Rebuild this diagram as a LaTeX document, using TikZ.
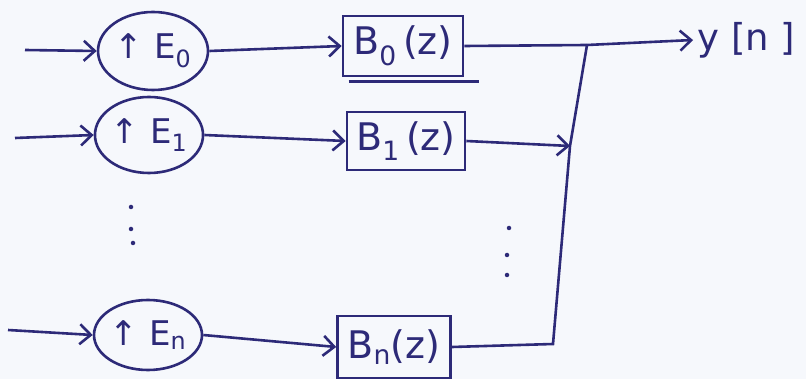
\documentclass[tikz,border=0pt]{standalone}
\usepackage{fontspec}
\setmainfont{DejaVu Sans}
\usetikzlibrary{arrows.meta,shapes.geometric,calc}
\definecolor{ink}{RGB}{45,42,120}
\definecolor{paper}{RGB}{246,248,252}
\begin{document}
\begin{tikzpicture}[x=1pt,y=-1pt, line width=2.6pt, ink,
  >={Straight Barb[length=11pt,width=20pt]},
  ell/.style={draw,ellipse,inner sep=0pt,font=\fontsize{34}{40}\selectfont},
  blk/.style={draw,rectangle,inner sep=0pt,font=\fontsize{38}{46}\selectfont},
  dot/.style={circle,fill,inner sep=0pt,minimum size=4.5pt}]
\fill[paper] (0,0) rectangle (806,379);
\useasboundingbox (0,0) rectangle (806,379);
% row 0
\coordinate (in0) at (25,50);
\node[ell,minimum width=110pt,minimum height=78pt] (e0) at (153,51) {↑ E\textsubscript{0}};
\node[blk,minimum width=120pt,minimum height=60pt] (b0) at (403,46) {B\textsubscript{0}\,(z)};
\coordinate (j0) at (587,45);
\node[anchor=west,font=\fontsize{37}{42}\selectfont] (y) at (693,40) {y [n ]};
% row 1
\coordinate (in1) at (15,138);
\node[ell,minimum width=103pt,minimum height=76pt] (e1) at (149,135) {↑ E\textsubscript{1}};
\node[blk,minimum width=118pt,minimum height=58pt] (b1) at (406,141) {B\textsubscript{1}\,(z)};
\coordinate (j1) at (570,146);
% row n
\coordinate (inn) at (8,330);
\node[ell,minimum width=105pt,minimum height=70pt] (en) at (148,335) {↑ E\textsubscript{n}};
\node[blk,minimum width=113pt,minimum height=62pt] (bn) at (394,347) {B\textsubscript{n}(z)};
\coordinate (jn) at (553,344);
% connectors
\draw[->] (in0) -- (e0.west);
\draw[->] (e0.east) -- (b0.west);
\draw (b0.east) -- (j0);
\draw[->] (j0) -- (y.west);
\draw[->] (in1) -- (e1.west);
\draw[->] (e1.east) -- (b1.west);
\draw[->] (b1.east) -- (j1);
\draw[->] (inn) -- (en.west);
\draw[->] (en.east) -- (bn.west);
\draw (bn.east) -- (jn) -- (j1) -- (j0);
% underline below B0
\draw ($(b0.south west)+(7,4)$) -- ($(b0.south east)+(15,4)$);
% dots
\node[dot] (d1) at (131,207) {};
\node[dot] (d2) at (131,229) {};
\node[dot] (d3) at (133,243) {};
\node[dot] (d4) at (509,228) {};
\node[dot] (d5) at (507,255) {};
\node[dot] (d6) at (507,275) {};
\end{tikzpicture}
\end{document}
